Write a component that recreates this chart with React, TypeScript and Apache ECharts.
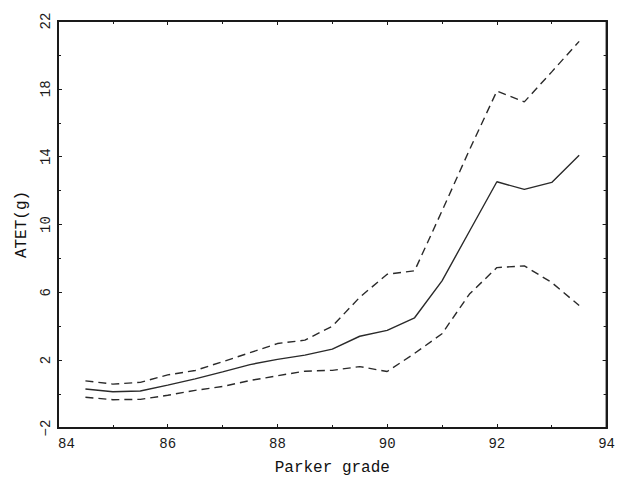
import React, { useEffect, useRef } from "react";
import * as echarts from "echarts";

const grades = [84.5, 85, 85.5, 86, 86.5, 87, 87.5, 88, 88.5, 89, 89.5, 90, 90.5, 91, 91.5, 92, 92.5, 93, 93.5];
const atet = [0.30, 0.14, 0.18, 0.53, 0.90, 1.31, 1.74, 2.05, 2.30, 2.65, 3.41, 3.76, 4.50, 6.68, 9.6, 12.52, 12.07, 12.48, 14.08];
const upperBand = [0.78, 0.59, 0.69, 1.13, 1.39, 1.91, 2.44, 2.98, 3.18, 4.0, 5.71, 7.07, 7.27, 10.8, 14.4, 17.87, 17.23, 19.0, 20.8];
const lowerBand = [-0.19, -0.33, -0.31, -0.07, 0.22, 0.45, 0.80, 1.08, 1.35, 1.40, 1.62, 1.33, 2.40, 3.56, 5.9, 7.46, 7.56, 6.58, 5.22];

const xTitle = "Parker grade";
const yTitle = "ATET(g)";

const INK = "#1a1a1a";
const FONT = "Liberation Mono";

export default function App() {
  const ref = useRef<HTMLDivElement>(null);
  useEffect(() => {
    if (!ref.current) return;
    const chart = echarts.init(ref.current, undefined, { renderer: "svg" });
    const pair = (ys: number[]) => grades.map((g, i) => [g, ys[i]]);
    const axisLine = { show: true, onZero: false, lineStyle: { color: INK, width: 2 } };
    const tick = { show: true, inside: true, length: 4, lineStyle: { color: INK } };
    const minor = { show: true, splitNumber: 2, length: 3, lineStyle: { color: INK } };
    const fmt = (v: number) => String(v).replace("-", "\u2212");
    chart.setOption({
      animation: false,
      backgroundColor: "#fff",
      grid: {
        left: 58,
        right: 2,
        top: 21,
        bottom: 49,
        containLabel: false,
        show: true,
        borderColor: INK,
        borderWidth: 2,
        backgroundColor: "transparent",
      },
      xAxis: [
        {
          type: "value",
          min: 84,
          max: 94,
          interval: 2,
          position: "bottom",
          axisLine,
          axisTick: tick,
          minorTick: minor,
          splitLine: { show: false },
          axisLabel: {
            show: true,
            margin: 9,
            fontFamily: FONT,
            fontSize: 14,
            color: INK,
            alignMinLabel: "left",
            showMinLabel: true,
            showMaxLabel: true,
            formatter: fmt,
          },
          name: xTitle,
          nameLocation: "middle",
          nameGap: 32,
          nameTextStyle: { fontFamily: FONT, fontSize: 16, color: "#111" },
        },
        {
          type: "value",
          min: 84,
          max: 94,
          interval: 2,
          position: "top",
          axisLine,
          axisTick: tick,
          minorTick: minor,
          splitLine: { show: false },
          axisLabel: { show: false },
        },
      ],
      yAxis: [
        {
          type: "value",
          min: -2,
          max: 22,
          interval: 4,
          position: "left",
          axisLine,
          axisTick: tick,
          minorTick: minor,
          splitLine: { show: false },
          axisLabel: {
            show: true,
            rotate: 90,
            margin: 5,
            fontFamily: FONT,
            fontSize: 14,
            color: INK,
            showMinLabel: true,
            showMaxLabel: true,
            formatter: fmt,
          },
          name: yTitle,
          nameLocation: "middle",
          nameGap: 28,
          nameTextStyle: { fontFamily: FONT, fontSize: 16, color: "#111" },
        },
        {
          type: "value",
          min: -2,
          max: 22,
          interval: 4,
          position: "right",
          axisLine,
          axisTick: tick,
          minorTick: minor,
          splitLine: { show: false },
          axisLabel: { show: false },
        },
      ],
      series: [
        {
          name: "ATET",
          type: "line",
          data: pair(atet),
          symbol: "none",
          lineStyle: { color: "#2a2a2a", width: 1.4, type: "solid" },
        },
        {
          name: "Upper",
          type: "line",
          data: pair(upperBand),
          symbol: "none",
          lineStyle: { color: "#2a2a2a", width: 1.4, type: [8, 5] },
        },
        {
          name: "Lower",
          type: "line",
          data: pair(lowerBand),
          symbol: "none",
          lineStyle: { color: "#2a2a2a", width: 1.4, type: [8, 5] },
        },
      ],
    });
    return () => chart.dispose();
  }, []);
  return (
    <div
      ref={ref}
      style={{ position: "fixed", left: 0, top: 0, width: 618, height: 481, background: "#fff" }}
    />
  );
}
